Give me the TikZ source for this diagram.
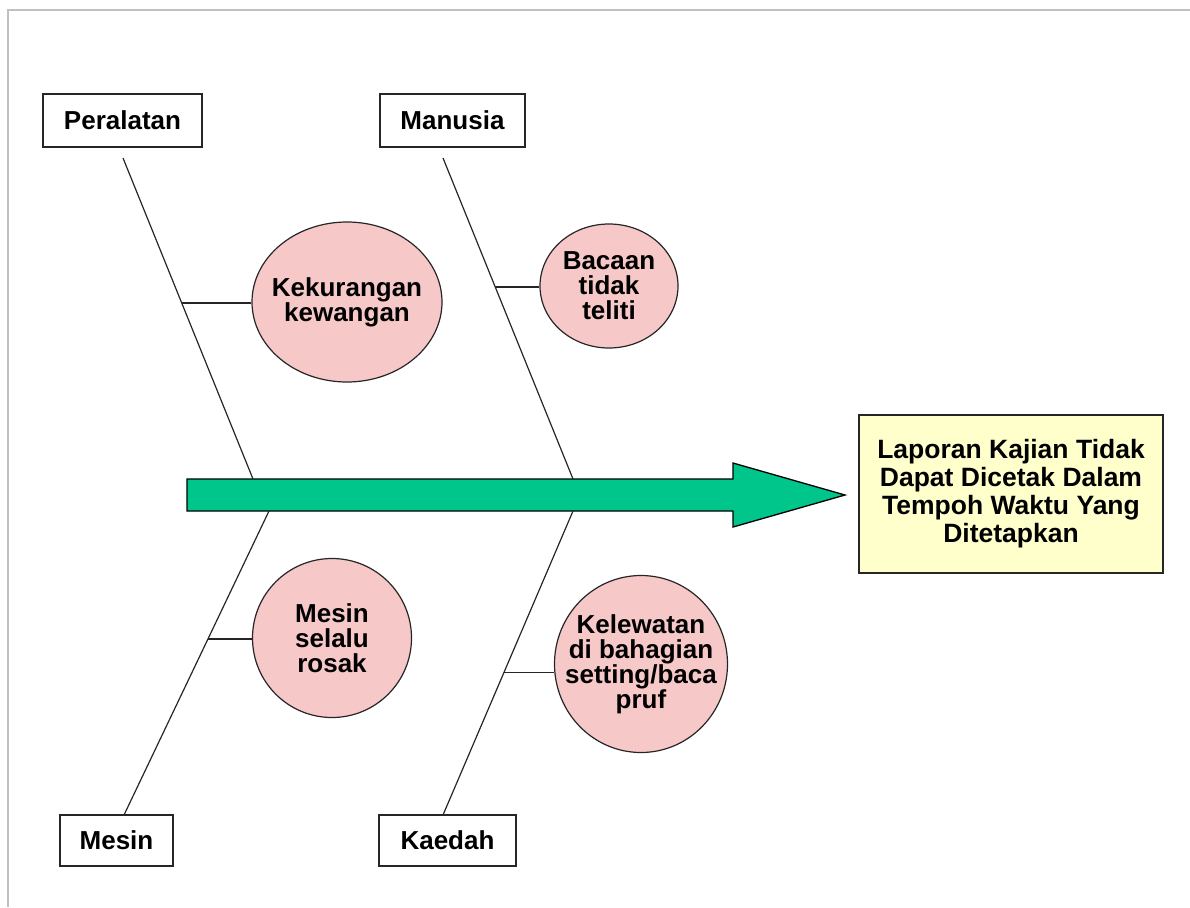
\documentclass[tikz,border=0pt]{standalone}
\usepackage{fontspec}
\setmainfont{Liberation Sans}
\usetikzlibrary{shapes.geometric,calc}
\definecolor{arrowgreen}{RGB}{0,198,140}
\definecolor{causepink}{RGB}{246,200,200}
\definecolor{effectyellow}{RGB}{255,255,204}
\definecolor{framegray}{RGB}{192,192,192}
\tikzset{
  catbox/.style={draw=black!85, line width=1.6pt, fill=white, inner sep=0pt, font=\fontsize{26}{25}\selectfont\bfseries},
  cause/.style={ellipse, draw=black!85, line width=1.2pt, fill=causepink, inner sep=-40pt, align=center, font=\fontsize{26}{25}\selectfont\bfseries},
  effect/.style={draw=black!85, line width=1.6pt, fill=effectyellow, inner sep=0pt, align=center, font=\fontsize{26.5}{28}\selectfont\bfseries},
  bone/.style={draw=black!85, line width=1.2pt},
  twig/.style={draw=black!85, line width=1.2pt},
}
\begin{document}
\begin{tikzpicture}[x=1pt,y=-1pt]
\useasboundingbox (0,0) rectangle (1190,907);
% frame (top and left only)
\draw[framegray, line width=2pt] (8,907) -- (8,10) -- (1190,10);

% category boxes
\node[catbox, minimum width=159pt, minimum height=53pt] (per) at (122.5,120.5) {Peralatan};
\node[catbox, minimum width=145pt, minimum height=53pt] (man) at (452.5,120.5) {Manusia};
\node[catbox, minimum width=113pt, minimum height=51pt] (mes) at (116.5,840.5) {Mesin};
\node[catbox, minimum width=137pt, minimum height=51pt] (kae) at (447.5,840.5) {Kaedah};

% effect box
\node[effect, minimum width=304pt, minimum height=158pt] (eff) at (1011,494)
  {Laporan Kajian Tidak\\Dapat Dicetak Dalam\\Tempoh Waktu Yang\\Ditetapkan};

% spine arrow
\draw[fill=arrowgreen, draw=black, line width=1.3pt]
  (187,479) -- (733,479) -- (733,463) -- (845,495) -- (733,527) -- (733,511) -- (187,511) -- cycle;
\coordinate (tip) at (845,495);

% bone end points on the spine
\coordinate (perS) at (123,158);
\coordinate (perE) at (253,479);
\coordinate (manS) at (443,158);
\coordinate (manE) at (573,479);
\coordinate (mesE) at (269,511);
\coordinate (mesS) at (124,815);
\coordinate (kaeE) at (573,511);
\coordinate (kaeS) at (443,815);

\draw[bone] (perS) -- (perE);
\draw[bone] (manS) -- (manE);
\draw[bone] (mesE) -- (mesS);
\draw[bone] (kaeE) -- (kaeS);

% causes
\node[cause, minimum width=190pt, minimum height=160pt] (kek) at (347,302) {Kekurangan\\kewangan};
\node[cause, minimum width=138pt, minimum height=124pt] (bac) at (609,286) {Bacaan\\tidak\\teliti};
\node[cause, minimum width=159pt, minimum height=159pt] (msr) at (332,638) {Mesin\\selalu\\rosak};
\node[cause, minimum width=173pt, minimum height=177pt] (kel) at (641,664) {Kelewatan\\di bahagian\\setting/baca\\pruf};

% twigs from bones to causes
\coordinate (kekB) at ($(perS)!0.452!(perE)$);
\coordinate (bacB) at ($(manS)!0.402!(manE)$);
\coordinate (msrB) at ($(mesE)!0.421!(mesS)$);
\coordinate (kelB) at ($(kaeE)!0.53!(kaeS)$);
\draw[twig] (kekB) -- (kekB -| kek.west);
\draw[twig] (bacB) -- (bacB -| bac.west);
\draw[twig] (msrB) -- (msrB -| msr.west);
\draw[twig] (kelB) -- (kelB -| kel.west);
\end{tikzpicture}
\end{document}
